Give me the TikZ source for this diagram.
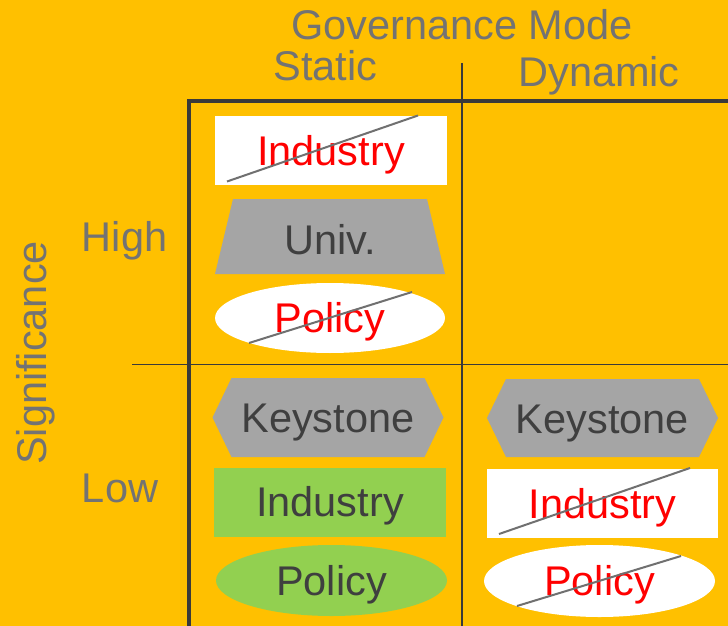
\documentclass[tikz,border=0pt]{standalone}
\usepackage{fontspec}
\setmainfont{Liberation Sans}
\usetikzlibrary{shapes.geometric,calc}
\definecolor{bg}{HTML}{FFC000}
\definecolor{lblc}{HTML}{737373}
\definecolor{dark}{HTML}{3F3F3F}
\definecolor{shapegray}{HTML}{A5A5A5}
\definecolor{grn}{HTML}{92D050}
\definecolor{linec}{HTML}{3A3A3A}
\definecolor{strikec}{HTML}{707070}
\begin{document}
\begin{tikzpicture}[x=1pt,y=-1pt,
 every node/.style={font=\fontsize{41.5}{48}\selectfont, inner sep=0pt, text height=29.7pt, text depth=0pt},
 lbl/.style={text=lblc},
 box/.style={rectangle, minimum width=232pt, minimum height=69pt},
 oval/.style={ellipse, minimum width=231pt, minimum height=71pt},
 crossed/.style={fill=white, text=red},
 ok/.style={fill=grn, text=dark},
 strike/.style={draw=strikec, line width=2pt},
 frame/.style={draw=linec, line width=4.5pt},
 thin/.style={draw=linec, line width=1.8pt},
 polyfill/.style={fill=shapegray}
]
\useasboundingbox (0,0) rectangle (728,626);
\fill[bg] (0,0) rectangle (728,626);

% grid lines
\draw[thin] (462,63) -- (462,626);
\draw[thin] (132,364.5) -- (728,364.5);
\draw[frame] (189,626) -- (189,101) -- (728,101);

% axis labels
\node[lbl] (gov) at (462,25) {Governance Mode};
\node[lbl] (static) at (325.5,66) {Static};
\node[lbl] (dynamic) at (599,72) {Dynamic};
\node[lbl] (high) at (124.5,237) {High};
\node[lbl] (low) at (120,488) {Low};
\node[lbl, rotate=90] (sig) at (32,353) {Significance};

% high / static
\node[box, crossed] (ind1) at (331,150.5) {Industry};
\draw[strike] ($(ind1)+(-104,31)$) -- ($(ind1)+(87,-35)$);

\coordinate (univc) at (330,236.5);
\fill[polyfill] ($(univc)+(-115,37.5)$) -- ($(univc)+(-97,-37.5)$) -- ($(univc)+(97,-37.5)$) -- ($(univc)+(115,37.5)$) -- cycle;
\node[text=dark] (univ) at (330,240) {Univ.};

\node[oval, crossed, minimum height=70pt, minimum width=230pt] (pol1) at (330,318) {Policy};
\draw[strike] ($(pol1)+(-81,25)$) -- ($(pol1)+(82,-26)$);

% low / static
\coordinate (k1c) at (328,417.5);
\fill[polyfill] ($(k1c)+(-115.5,0)$) -- ($(k1c)+(-96.5,-39.5)$) -- ($(k1c)+(96.5,-39.5)$) -- ($(k1c)+(115.5,0)$) -- ($(k1c)+(96.5,39.5)$) -- ($(k1c)+(-96.5,39.5)$) -- cycle;
\node[text=dark] (key1) at (328,418) {Keystone};

\node[box, ok] (ind2) at (330,502) {Industry};
\node[oval, ok] (pol2) at (331.5,580.5) {Policy};

% low / dynamic
\coordinate (k2c) at (602.5,418);
\fill[polyfill] ($(k2c)+(-115.5,0)$) -- ($(k2c)+(-96.5,-39)$) -- ($(k2c)+(96.5,-39)$) -- ($(k2c)+(115.5,0)$) -- ($(k2c)+(96.5,39)$) -- ($(k2c)+(-96.5,39)$) -- cycle;
\node[text=dark] (key2) at (602.5,419) {Keystone};

\node[box, crossed, minimum width=231pt] (ind3) at (602.5,503.5) {Industry};
\draw[strike] ($(ind3)+(-103.5,30.5)$) -- ($(ind3)+(87.5,-35.5)$);

\node[oval, crossed, minimum height=72pt] (pol3) at (599.5,581) {Policy};
\draw[strike] ($(pol3)+(-82.5,25)$) -- ($(pol3)+(81.5,-25)$);
\end{tikzpicture}
\end{document}
